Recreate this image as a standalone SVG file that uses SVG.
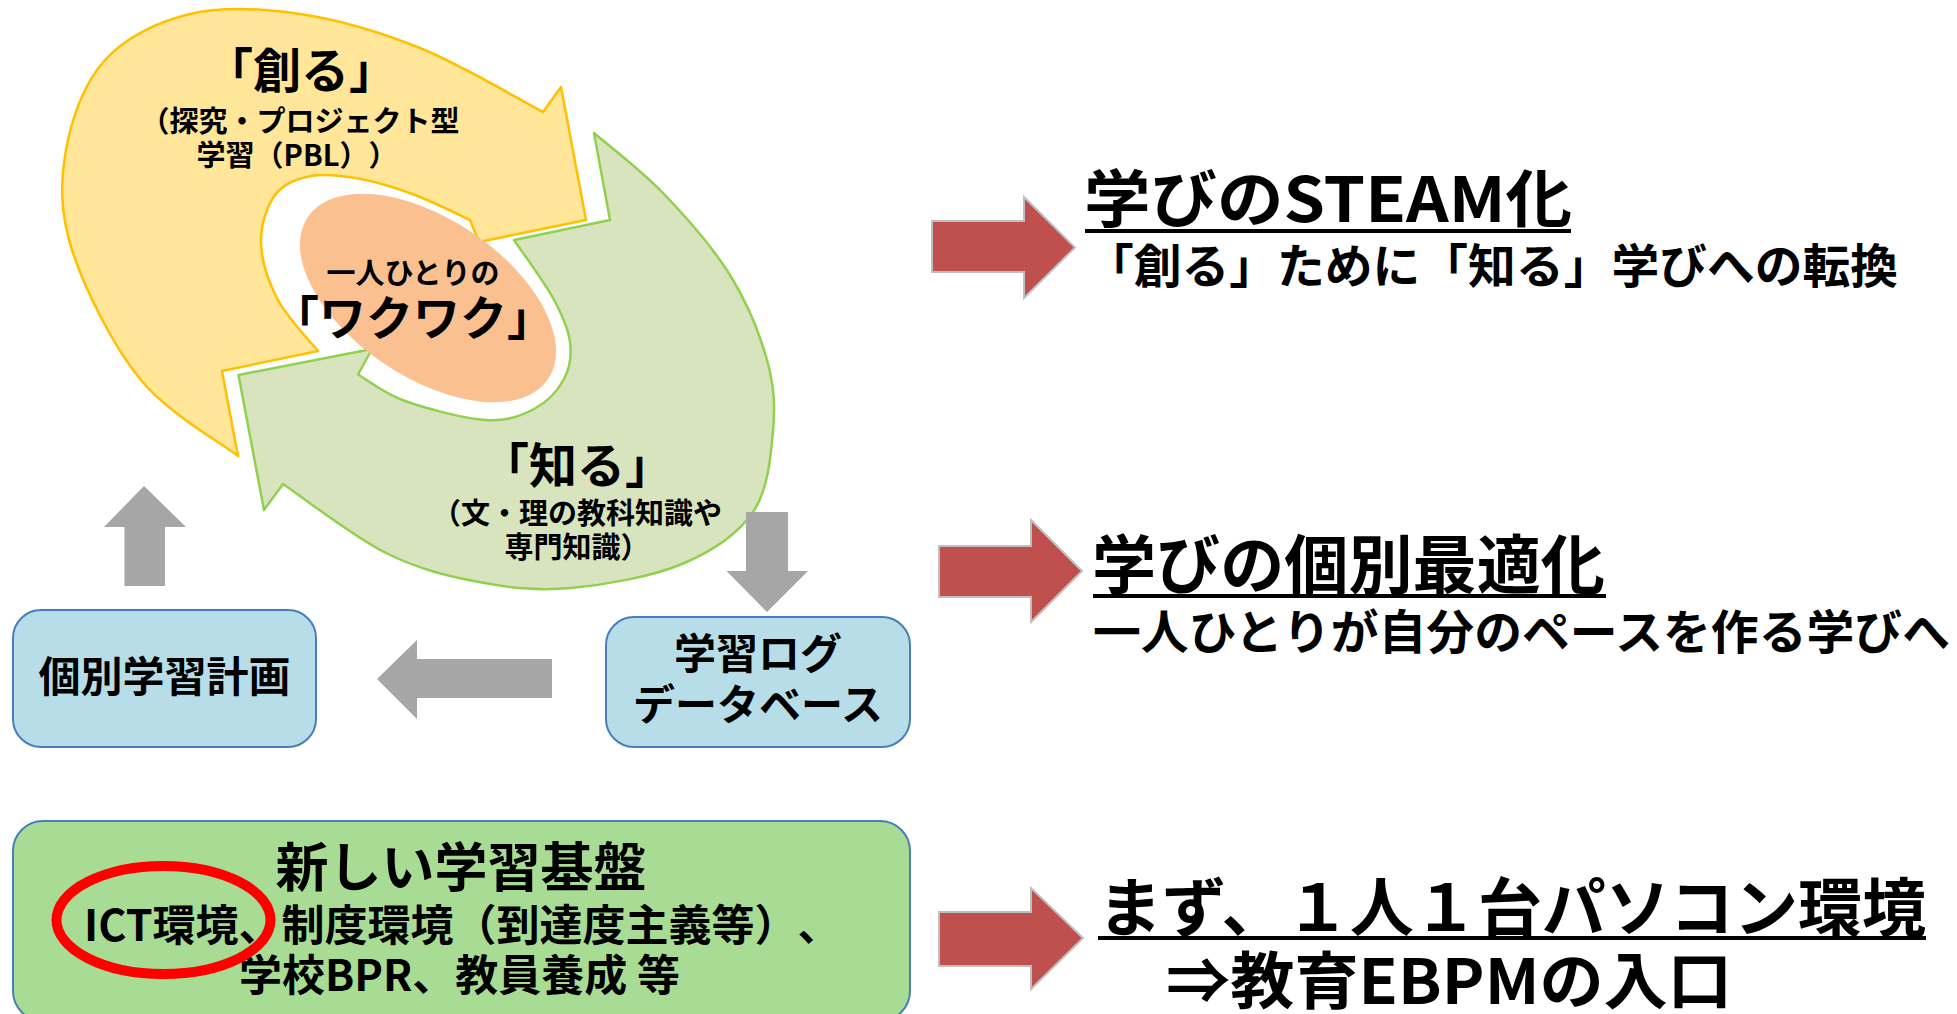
<svg xmlns="http://www.w3.org/2000/svg" width="1957" height="1014" viewBox="0 0 1957 1014">
<defs>
<style>
.t{font-family:"Noto Sans CJK JP","Noto Sans CJK SC",sans-serif;font-weight:bold;fill:#000;text-spacing-trim:space-all}
.box{fill:#B7DEE8;stroke:#4A7EBB;stroke-width:2}
.gray{fill:#A6A6A6}
.red{fill:#C0504D;stroke:#BFBFBF;stroke-width:2}
.ul{stroke:#000;stroke-width:4}
</style>
</defs>
<rect width="1957" height="1014" fill="#fff"/>

<g id="cycle-create">
<path d="M238,456 C221.7,443.2 167.7,413.3 140,379 C112.3,344.7 84.3,288.2 72,250 C59.7,211.8 60.5,181.7 66,150 C71.5,118.3 84.3,82.7 105,60 C125.7,37.3 157.5,21.7 190,14 C222.5,6.3 261.7,8.3 300,14 C338.3,19.7 379.5,31.7 420,48 C460.5,64.3 522.5,101.3 543,112 L561,87 L586,220 L479,242 L470,220 C460.8,215.8 433.2,201.8 415,195 C396.8,188.2 378.3,182.2 361,179 C343.7,175.8 325.3,173.3 311,176 C296.7,178.7 283.3,183.8 275,195 C266.7,206.2 260.5,225.5 261,243 C261.5,260.5 268.5,282 278,300 C287.5,318 311.3,342.5 318,351 L222,371 Z" fill="#FFE699" stroke="#FFC000" stroke-width="2.5" stroke-linejoin="round"/>
<text class="t" x="301" y="88" font-size="48" text-anchor="middle">「創る」</text>
<text class="t" x="300" y="132" font-size="29" text-anchor="middle">（探究・プロジェクト型</text>
<text class="t" x="297" y="166" font-size="29" text-anchor="middle">学習（PBL））</text>
</g>

<g id="cycle-know">
<path d="M594,133 C605.7,143.2 641.3,170.3 664,194 C686.7,217.7 712.8,247.3 730,275 C747.2,302.7 759.8,334 767,360 C774.2,386 775.3,405.7 773,431 C770.7,456.3 768.2,489.8 753,512 C737.8,534.2 712.3,551.3 682,564 C651.7,576.7 604.8,585 571,588 C537.2,591 509.8,587.8 479,582 C448.2,576.2 418.7,569.3 386,553 C353.3,536.7 300.2,495.5 283,484 L264,510 L238.5,375 L372,349 L358,374.5 C365.8,378.9 383.7,393.4 405,401 C426.3,408.6 464.5,418.7 486,420 C507.5,421.3 521,415.8 534,409 C547,402.2 558,390.2 564,379 C570,367.8 571.8,355.5 570,342 C568.2,328.5 562.3,315 553,298 C543.7,281 520.5,249.7 514,240 L610,220 Z" fill="#D7E4BD" stroke="#92D050" stroke-width="2.5" stroke-linejoin="round"/>
<text class="t" x="577" y="483" font-size="48" text-anchor="middle">「知る」</text>
<text class="t" x="577" y="524" font-size="29" text-anchor="middle">（文・理の教科知識や</text>
<text class="t" x="577" y="558" font-size="29" text-anchor="middle">専門知識）</text>
</g>

<g id="wakuwaku">
<ellipse cx="428" cy="298" rx="145" ry="79" transform="rotate(34 428 298)" fill="#FAC090"/>
<text class="t" x="413" y="284" font-size="29" text-anchor="middle">一人ひとりの</text>
<text class="t" x="413" y="335" font-size="47" text-anchor="middle">「ワクワク」</text>
</g>

<g id="plan">
<rect class="box" x="13" y="610" width="303" height="137" rx="28"/>
<text class="t" x="164.5" y="692" font-size="42" text-anchor="middle">個別学習計画</text>
</g>

<g id="logdb">
<rect class="box" x="606" y="617" width="304" height="130" rx="28"/>
<text class="t" x="758" y="669" font-size="42" text-anchor="middle">学習ログ</text>
<text class="t" x="758" y="720" font-size="42" text-anchor="middle">データベース</text>
</g>

<g id="foundation">
<rect x="13" y="821" width="897" height="200" rx="30" fill="#A8DC94" stroke="#4A7EBB" stroke-width="2"/>
<text class="t" x="461" y="887" font-size="53" text-anchor="middle">新しい学習基盤</text>
<text class="t" x="84" y="941" font-size="43">ICT環境、制度環境（到達度主義等）、</text>
<text class="t" x="239" y="991" font-size="43">学校BPR、教員養成 等</text>
<ellipse cx="163.5" cy="920" rx="107" ry="54" fill="none" stroke="#FF0000" stroke-width="10"/>
</g>

<g id="steam">
<text class="t" x="1084" y="222" font-size="62" textLength="488" lengthAdjust="spacingAndGlyphs">学びのSTEAM化</text>
<line class="ul" x1="1085" y1="231" x2="1571" y2="231"/>
<text class="t" x="1086" y="283" font-size="47" textLength="812" lengthAdjust="spacingAndGlyphs">「創る」ために「知る」学びへの転換</text>
</g>

<g id="personal">
<text class="t" x="1092" y="588" font-size="64" textLength="513" lengthAdjust="spacingAndGlyphs">学びの個別最適化</text>
<line class="ul" x1="1093" y1="596" x2="1606" y2="596"/>
<text class="t" x="1093" y="649" font-size="47" textLength="857" lengthAdjust="spacingAndGlyphs">一人ひとりが自分のペースを作る学びへ</text>
</g>

<g id="pc">
<text class="t" x="1098" y="931" font-size="64" textLength="828" lengthAdjust="spacingAndGlyphs">まず、１人１台パソコン環境</text>
<line class="ul" x1="1098" y1="938" x2="1926" y2="938"/>
<text class="t" x="1166" y="1004" font-size="62" textLength="566" lengthAdjust="spacingAndGlyphs">⇒教育EBPMの入口</text>
</g>

<g id="connectors">
<polygon class="gray" points="144,486 186,527 165,527 165,586 124.5,586 124.5,527 104,527"/>
<polygon class="gray" points="746,512 788,512 788,571 808,571 767,612 726.5,571 746,571"/>
<polygon class="gray" points="377,679 417,640 417,659 552,659 552,698 417,698 417,719"/>
<polygon class="red" points="932,221 1024,221 1024,197 1075,247.5 1024,298 1024,272 932,272"/>
<polygon class="red" points="939,546 1031,546 1031,520 1082,571 1031,622 1031,597 939,597"/>
<polygon class="red" points="939,912 1031,912 1031,888 1083,938 1031,989 1031,966 939,966"/>
</g>
</svg>
